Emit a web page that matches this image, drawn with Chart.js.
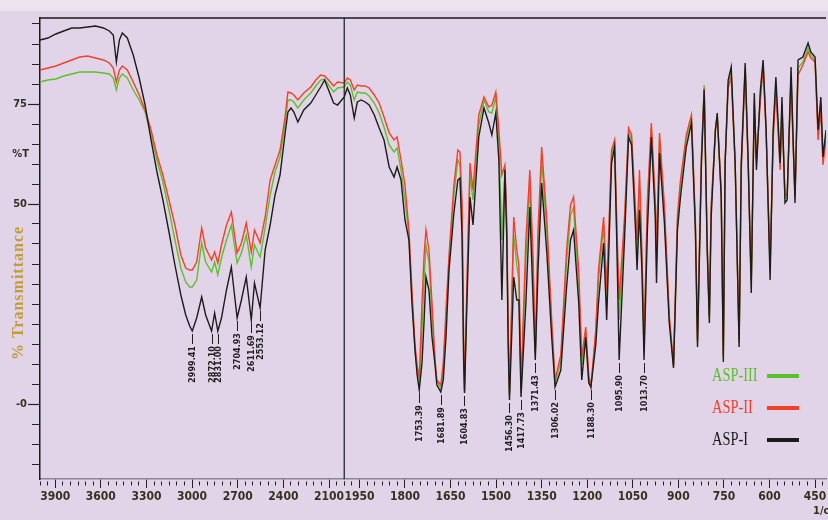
<!DOCTYPE html>
<html>
<head>
<meta charset="utf-8">
<script src="https://cdn.jsdelivr.net/npm/chart.js@4.4.1/dist/chart.umd.min.js"></script>
<style>
  html, body { margin: 0; padding: 0; background: #e2d4e8; }
  #wrap { width: 828px; height: 520px; }
</style>
</head>
<body>
<div id="wrap"><canvas id="ftir" width="828" height="520"></canvas></div>
<script>
// wavenumber (1/cm) -- high range, 4000..2000
const wnHigh = [4000, 3948, 3896, 3844, 3791, 3739, 3687, 3635, 3583, 3544, 3518, 3498, 3478, 3459, 3426, 3387,
  3348, 3309, 3270, 3231, 3192, 3152, 3113, 3074, 3042, 3016, 2999, 2970, 2937, 2911, 2872, 2852, 2831, 2807,
  2774, 2742, 2704, 2676, 2644, 2611, 2590, 2553, 2520, 2487, 2455, 2422, 2390, 2370, 2350, 2331, 2305, 2266,
  2220, 2187, 2155, 2129, 2103, 2070, 2044, 2000];
const aspIHigh = [91.0, 91.5, 92.5, 93.25, 94.0, 94.0, 94.25, 94.5, 94.0, 93.25, 92.25, 85.5, 91.0, 92.75, 91.5, 87.25,
  81.5, 74.75, 66.0, 58.0, 51.0, 43.0, 34.75, 27.25, 22.25, 19.5, 18.25, 21.5, 26.75, 22.25, 18.25, 22.75, 18.25, 21.5,
  28.5, 34.25, 21.5, 26.0, 31.75, 21.0, 30.25, 24.0, 38.5, 44.75, 52.25, 57.25, 67.25, 73.0, 74.0, 73.0, 70.5, 73.5,
  75.25, 77.25, 79.25, 81.0, 78.5, 75.25, 74.75, 76.75];
const aspIIHigh = [83.5, 84.0, 84.5, 85.25, 86.0, 86.75, 87.0, 86.5, 86.0, 85.25, 84.0, 80.5, 83.5, 84.5, 83.5, 80.5,
  77.25, 73.5, 68.5, 62.25, 57.25, 51.0, 44.75, 37.25, 34.0, 33.5, 33.5, 35.5, 44.0, 39.0, 36.0, 38.0, 35.25, 39.75,
  44.75, 48.0, 37.75, 40.25, 45.25, 38.0, 43.5, 40.25, 46.75, 56.0, 59.75, 63.5, 71.5, 78.0, 77.75, 77.25, 76.0, 77.75,
  79.25, 81.0, 82.25, 82.0, 81.0, 79.5, 80.5, 80.25];
const aspIIIHigh = [80.5, 81.0, 81.25, 82.0, 82.5, 83.0, 83.0, 83.0, 82.75, 82.5, 81.5, 78.5, 81.5, 82.5, 81.5, 78.5,
  76.0, 73.0, 67.25, 61.0, 55.5, 48.5, 41.0, 34.0, 30.5, 29.25, 29.25, 31.0, 40.25, 35.5, 33.0, 35.5, 32.25, 36.5,
  41.0, 44.75, 35.25, 37.75, 42.25, 34.25, 39.75, 36.75, 44.0, 52.25, 58.0, 61.75, 69.75, 76.0, 76.0, 75.5, 74.0, 76.0,
  77.75, 79.5, 81.0, 81.25, 79.75, 78.0, 79.0, 79.25];

// wavenumber (1/cm) -- low range, 2000..414
const wnLow = [2000, 1990, 1980, 1967, 1957, 1944, 1931, 1918, 1901, 1885, 1869, 1852, 1836, 1826, 1813, 1800,
  1787, 1777, 1767, 1760, 1753, 1744, 1737, 1731, 1721, 1711, 1701, 1695, 1682, 1674, 1665, 1655, 1639, 1626,
  1619, 1612, 1607, 1604, 1596, 1586, 1576, 1567, 1557, 1540, 1524, 1514, 1501, 1491, 1481, 1471, 1465, 1460,
  1456, 1442, 1432, 1425, 1418, 1402, 1389, 1378, 1371, 1362, 1350, 1333, 1317, 1306, 1287, 1268, 1255, 1245,
  1228, 1218, 1205, 1195, 1188, 1172, 1163, 1146, 1136, 1120, 1110, 1102, 1095, 1077, 1064, 1054, 1041, 1036,
  1028, 1020, 1013, 1002, 989, 976, 972, 962, 946, 930, 916, 903, 893, 874, 857, 844, 837, 824, 815, 805, 798,
  792, 778, 772, 759, 752, 746, 736, 726, 713, 700, 693, 680, 670, 660, 650, 643, 630, 621, 611, 598, 588, 579,
  565, 559, 549, 542, 529, 523, 516, 506, 490, 473, 464, 450, 440, 431, 424, 414];
const aspILow = [76.75, 79.0, 77.25, 71.5, 75.5, 76.0, 75.5, 74.75, 72.25, 69.0, 66.0, 59.25, 56.75, 59.25, 56.0, 46.0,
  41.0, 25.25, 13.5, 7.25, 3.5, 10.25, 21.0, 31.75, 28.5, 16.75, 9.75, 4.75, 3.0, 6.0, 16.75, 33.5, 47.75, 56.0,
  56.5, 41.75, 11.0, 2.75, 25.25, 51.75, 44.75, 55.25, 66.75, 74.0, 70.25, 67.25, 72.75, 61.0, 26.0, 58.5, 41.75, 13.5,
  1.0, 31.75, 26.0, 26.0, 1.75, 25.25, 49.25, 25.25, 11.0, 33.5, 55.25, 37.75, 16.75, 4.25, 8.5, 29.25, 41.0, 43.5,
  25.25, 6.0, 16.75, 5.25, 4.25, 14.75, 25.25, 40.25, 21.0, 60.25, 64.25, 37.75, 11.0, 41.75, 66.75, 64.75, 43.5, 33.5,
  48.5, 33.5, 11.0, 43.5, 66.75, 46.75, 30.25, 62.75, 45.25, 20.25, 9.0, 43.5, 51.75, 64.25, 70.25, 43.5, 14.25, 60.25, 78.5, 38.5, 20.25,
  46.75, 68.5, 72.75, 51.75, 10.5, 60.25, 81.0, 84.25, 60.25, 14.25, 60.25, 85.25, 60.25, 27.75, 77.75, 58.5, 78.5, 86.0, 68.5, 31.0, 68.5, 81.75,
  60.25, 76.75, 50.25, 51.0, 84.25, 68.5, 50.25, 86.0, 86.75, 90.25, 88.0, 86.75, 68.5, 76.75, 61.75, 68.5];
const aspIILow = [80.25, 81.5, 81.0, 78.5, 79.75, 79.5, 79.5, 79.0, 77.25, 75.25, 71.75, 67.75, 66.0, 66.75, 61.0, 54.75,
  43.5, 28.5, 14.75, 9.75, 6.5, 25.25, 37.25, 43.5, 38.5, 25.25, 11.0, 6.0, 4.75, 10.25, 23.5, 37.25, 54.75, 63.5,
  63.0, 50.25, 16.0, 3.5, 31.0, 60.25, 53.5, 62.75, 72.25, 76.75, 74.25, 74.75, 78.0, 68.5, 57.25, 59.75, 46.0, 18.5,
  3.0, 46.75, 38.5, 34.75, 4.25, 41.0, 58.5, 36.0, 12.75, 43.5, 64.25, 46.0, 21.0, 6.0, 12.25, 38.5, 49.75, 51.75,
  33.5, 11.75, 19.25, 7.25, 4.25, 18.5, 33.5, 46.75, 28.5, 63.5, 66.0, 43.5, 26.0, 47.25, 69.0, 67.25, 48.5, 41.0,
  58.5, 38.5, 16.0, 51.0, 70.25, 51.0, 38.5, 67.75, 49.75, 22.25, 9.75, 47.25, 56.0, 67.25, 72.25, 46.0, 16.0, 62.25, 79.0, 39.75, 22.25,
  49.75, 68.5, 71.5, 53.5, 12.25, 61.0, 79.0, 81.75, 59.75, 16.0, 58.5, 83.5, 59.0, 31.0, 74.75, 61.0, 76.0, 84.25, 67.25, 34.75, 66.0, 78.5,
  58.5, 73.5, 52.25, 52.25, 81.0, 66.0, 52.25, 82.25, 84.75, 88.0, 86.5, 85.5, 66.0, 73.5, 59.75, 66.0];
const aspIIILow = [79.25, 80.5, 79.75, 76.0, 78.0, 77.75, 77.75, 77.0, 75.25, 72.75, 69.25, 64.75, 63.0, 64.0, 58.5, 51.0,
  42.25, 26.75, 13.5, 8.5, 4.75, 18.5, 31.0, 39.75, 35.5, 22.25, 10.5, 5.5, 4.0, 8.5, 21.0, 35.5, 52.25, 61.0,
  59.75, 47.25, 13.5, 3.0, 28.5, 57.25, 51.0, 59.75, 69.75, 76.0, 73.0, 72.75, 76.75, 66.0, 41.0, 59.0, 43.5, 16.0,
  2.25, 42.25, 34.75, 31.0, 3.5, 36.0, 54.75, 32.25, 12.25, 39.75, 61.0, 43.0, 19.25, 5.25, 10.5, 35.5, 47.25, 49.0,
  29.75, 9.75, 18.0, 6.5, 4.25, 17.25, 31.0, 44.75, 26.0, 62.25, 65.5, 41.0, 21.0, 44.75, 68.0, 66.0, 46.0, 37.25,
  53.5, 36.0, 13.5, 48.5, 69.0, 49.0, 36.0, 66.0, 47.75, 21.5, 9.5, 45.5, 54.75, 66.0, 71.75, 44.75, 15.25, 61.5, 79.75, 39.0, 21.5,
  48.5, 69.0, 72.25, 52.75, 11.5, 60.5, 80.0, 83.0, 60.0, 15.25, 59.25, 84.25, 59.75, 29.75, 76.0, 59.75, 77.25, 85.25, 68.0, 33.5, 67.25, 79.75,
  59.25, 74.75, 51.5, 51.5, 82.25, 67.25, 51.5, 84.0, 85.5, 89.0, 87.25, 86.0, 67.25, 75.25, 61.0, 67.25];

// marked bands
const peakText = ['2999.41', '2872.10', '2831.00', '2704.93', '2611.69', '2553.12',
  '1753.39', '1681.89', '1604.83', '1456.30', '1417.73', '1371.43', '1306.02', '1188.30', '1095.90', '1013.70'];

const seriesNames = ['ASP-I', 'ASP-II', 'ASP-III'];
const seriesColors = ['#1c1c1c', '#f2402a', '#5cc02a'];

const yTicksShown = { 75: '75', 50: '50', 0: '-0' };
const inkColor = '#35311f';
const narrow = '"Liberation Sans Narrow", "DejaVu Sans Condensed", sans-serif';

function pts(wn, vals) {
  return wn.map((w, i) => ({ x: w, y: vals[i] }));
}

const highVals = [aspIHigh, aspIIHigh, aspIIIHigh];
const lowVals = [aspILow, aspIILow, aspIIILow];
const datasets = [];
seriesNames.forEach((name, s) => {
  [['xHigh', wnHigh, highVals[s]], ['xLow', wnLow, lowVals[s]]].forEach(([axis, wn, vals]) => {
    datasets.push({
      label: name,
      xAxisID: axis,
      yAxisID: 'y',
      data: pts(wn, vals),
      borderColor: seriesColors[s],
      borderWidth: 1.4,
      pointRadius: 0,
      tension: 0,
      fill: false,
      order: s
    });
  });
});

const bgPlugin = {
  id: 'bg',
  beforeDraw(chart) {
    const ctx = chart.ctx;
    ctx.save();
    ctx.fillStyle = '#e2d4e8';
    ctx.fillRect(0, 0, chart.width, chart.height);
    ctx.fillStyle = '#ebe3ee';
    ctx.fillRect(0, 0, chart.width, 11);
    ctx.restore();
  }
};

const framePlugin = {
  id: 'frame',
  afterDraw(chart) {
    const ctx = chart.ctx;
    const a = chart.chartArea;
    const split = chart.scales.xHigh.right;
    ctx.save();
    ctx.strokeStyle = '#1a1a1a';
    ctx.lineWidth = 1.5;
    ctx.beginPath();
    ctx.moveTo(a.left, a.top);
    ctx.lineTo(a.right, a.top);
    ctx.stroke();
    ctx.lineWidth = 1.2;
    ctx.beginPath();
    ctx.moveTo(split, a.top);
    ctx.lineTo(split, a.bottom);
    ctx.stroke();

    // axis texts
    ctx.fillStyle = inkColor;
    ctx.font = 'bold 11px ' + narrow;
    ctx.textAlign = 'right';
    ctx.textBaseline = 'middle';
    ctx.fillText('%T', 29, chart.scales.y.getPixelForValue(62.5));
    ctx.textAlign = 'left';
    ctx.fillText('1/cm', 813, 511);

    ctx.save();
    ctx.translate(19, 293);
    ctx.rotate(-Math.PI / 2);
    ctx.textAlign = 'center';
    ctx.fillStyle = '#c29c3a';
    ctx.font = 'bold 16px "Liberation Serif", "DejaVu Serif", serif';
    ctx.letterSpacing = '1px';
    ctx.fillText('% Transmittance', 0, 0);
    ctx.restore();

    // legend
    ctx.font = '18px "Liberation Serif", "DejaVu Serif", serif';
    ctx.textAlign = 'left';
    [2, 1, 0].forEach((s, row) => {
      const yy = 376 + row * 32;
      ctx.fillStyle = seriesColors[s];
      ctx.save();
      ctx.translate(712, yy);
      ctx.scale(0.8, 1);
      ctx.fillText(seriesNames[s], 0, 0);
      ctx.restore();
      ctx.fillRect(767, yy - 2, 32, 4);
    });
    ctx.restore();
  }
};

const peakPlugin = {
  id: 'peaks',
  afterDatasetsDraw(chart) {
    const ctx = chart.ctx;
    const ys = chart.scales.y;
    ctx.save();
    ctx.font = 'bold 9px ' + narrow;
    ctx.fillStyle = '#1e1e1e';
    ctx.strokeStyle = '#1e1e1e';
    ctx.lineWidth = 1;
    peakText.forEach((txt) => {
      const wn = Number(txt);
      const high = wn >= 2000;
      const xs = chart.scales[high ? 'xHigh' : 'xLow'];
      const wns = high ? wnHigh : wnLow;
      const vals = high ? aspIHigh : aspILow;
      let k = 0;
      wns.forEach((w, j) => { if (Math.abs(w - wn) < Math.abs(wns[k] - wn)) k = j; });
      const px = Math.round(xs.getPixelForValue(wn)) + 0.5;
      const py = ys.getPixelForValue(vals[k]) + 3;
      ctx.beginPath();
      ctx.moveTo(px, py);
      ctx.lineTo(px, py + 10);
      ctx.stroke();
      ctx.save();
      ctx.translate(px, py + 12);
      ctx.rotate(-Math.PI / 2);
      ctx.textAlign = 'right';
      ctx.textBaseline = 'middle';
      ctx.fillText(txt, 0, 0);
      ctx.restore();
    });
    ctx.restore();
  }
};

function xTickDash(labelled) {
  return (c) => (c.tick && labelled(c.tick.value) ? [] : [0, 2, 4, 40]);
}
const highLabelled = (v) => v < 4000 && v > 2000 && (4000 - v) % 300 === 100;
const lowLabelled = (v) => v <= 1950 && (1950 - v) % 150 === 0;

const xCommon = {
  type: 'linear',
  position: 'bottom',
  stack: 'wn',
  reverse: true,
  afterFit: (scale) => { scale.height = 41; },
  border: { display: true, color: '#8a8590', width: 1.5 },
  grid: { drawOnChartArea: false, drawTicks: true, tickLength: 9, tickColor: '#222', tickWidth: 1 }
};

new Chart(document.getElementById('ftir'), {
  type: 'line',
  data: { datasets },
  options: {
    responsive: false,
    animation: false,
    layout: { padding: { top: 18, left: 0, right: 0, bottom: 0 } },
    plugins: { legend: { display: false }, tooltip: { enabled: false } },
    scales: {
      xHigh: {
        ...xCommon,
        stackWeight: 305,
        min: 2000,
        max: 4000,
        grid: { ...xCommon.grid, tickBorderDash: xTickDash(highLabelled) },
        ticks: {
          stepSize: 50, autoSkip: false, maxRotation: 0, includeBounds: false, padding: 2,
          color: inkColor, font: { family: narrow, size: 12, weight: 'bold' },
          callback: (v) => (highLabelled(v) ? String(v) : '')
        }
      },
      xLow: {
        ...xCommon,
        stackWeight: 483,
        min: 414,
        max: 2000,
        grid: { ...xCommon.grid, tickBorderDash: xTickDash(lowLabelled) },
        ticks: {
          stepSize: 25, autoSkip: false, maxRotation: 0, includeBounds: false, padding: 2,
          color: inkColor, font: { family: narrow, size: 12, weight: 'bold' },
          callback: (v) => (lowLabelled(v) ? String(v) : '')
        }
      },
      y: {
        type: 'linear',
        position: 'left',
        min: -18.75,
        max: 96.5,
        afterFit: (scale) => { scale.width = 40; },
        border: { display: true, color: '#1a1a1a', width: 1.5 },
        grid: {
          drawOnChartArea: false, drawTicks: true, tickLength: 12, tickColor: '#222', tickWidth: 1.2,
          tickBorderDash: (c) => (c.tick && yTicksShown[c.tick.value] ? [] : [0, 4, 8, 40])
        },
        ticks: {
          stepSize: 5, autoSkip: false, includeBounds: false, padding: 1,
          color: inkColor, font: { family: narrow, size: 11, weight: 'bold' },
          callback: (v) => yTicksShown[v] || ''
        }
      }
    }
  },
  plugins: [bgPlugin, peakPlugin, framePlugin]
});
</script>
</body>
</html>
